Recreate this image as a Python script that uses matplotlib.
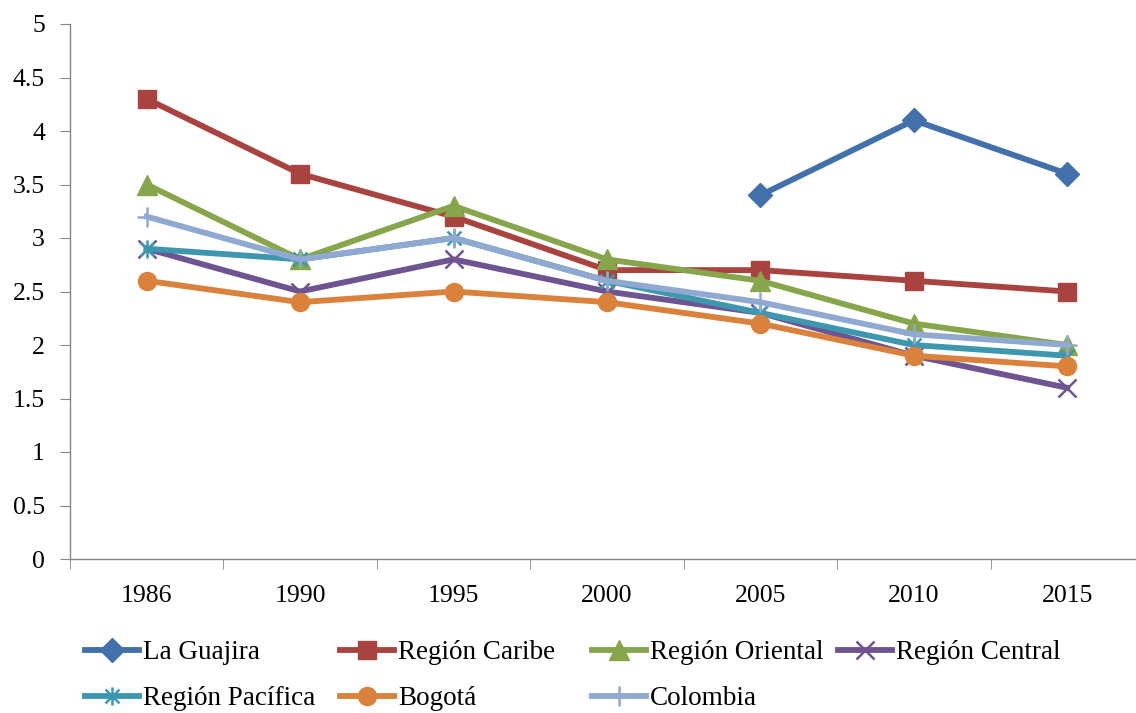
import matplotlib
matplotlib.use("Agg")
import matplotlib.pyplot as plt
from matplotlib.path import Path
from matplotlib.ticker import FixedLocator, FuncFormatter
import numpy as np

years = ["1986", "1990", "1995", "2000", "2005", "2010", "2015"]

la_guajira = [np.nan, np.nan, np.nan, np.nan, 3.4, 4.1, 3.6]
region_caribe = [4.3, 3.6, 3.2, 2.7, 2.7, 2.6, 2.5]
region_oriental = [3.5, 2.8, 3.3, 2.8, 2.6, 2.2, 2.0]
region_central = [2.9, 2.5, 2.8, 2.5, 2.3, 1.9, 1.6]
region_pacifica = [2.9, 2.8, 3.0, 2.6, 2.3, 2.0, 1.9]
bogota = [2.6, 2.4, 2.5, 2.4, 2.2, 1.9, 1.8]
colombia = [3.2, 2.8, 3.0, 2.6, 2.4, 2.1, 2.0]

# Excel "star" marker: an x with a vertical bar through it
star = Path([(-1, -1), (1, 1), (-1, 1), (1, -1), (0, -1.3), (0, 1.3)],
            [Path.MOVETO, Path.LINETO, Path.MOVETO, Path.LINETO, Path.MOVETO, Path.LINETO])

series = [
    ("La Guajira", la_guajira, "#4170AB", "D", 12, True),
    ("Región Caribe", region_caribe, "#A9433F", "s", 13, True),
    ("Región Oriental", region_oriental, "#87A54A", "^", 14, True),
    ("Región Central", region_central, "#6E5491", "x", 13, False),
    ("Región Pacífica", region_pacifica, "#3D97AF", star, 13, False),
    ("Bogotá", bogota, "#DA823B", "o", 13, True),
    ("Colombia", colombia, "#8FA9D0", "+", 15, False),
]

plt.rcParams["font.family"] = ["Liberation Serif", "DejaVu Serif"]

fig = plt.figure(figsize=(11.36, 7.13), dpi=100)
ax = fig.add_axes([70 / 1136, 1 - 559 / 713, 1074 / 1136, 535 / 713])

x = np.arange(len(years))
handles = []
for name, vals, color, marker, ms, filled in series:
    if filled:
        h, = ax.plot(x, vals, color=color, lw=4.2, marker=marker, ms=ms,
                     mfc=color, mec=color, label=name)
    else:
        h, = ax.plot(x, vals, color=color, lw=4.2, marker=marker, ms=ms,
                     mfc="none", mec=color, mew=1.8, label=name)
    handles.append(h)

ax.set_xlim(-0.5, len(years) - 0.5)
ax.set_ylim(0, 5)
ax.set_yticks(np.arange(0, 5.01, 0.5))
ax.yaxis.set_major_formatter(FuncFormatter(lambda v, p: f"{v:g}"))
ax.set_xticks(x)
ax.set_xticklabels(years)
ax.xaxis.set_minor_locator(FixedLocator(np.arange(-0.5, len(years), 1.0)))

for side in ["top", "right"]:
    ax.spines[side].set_visible(False)
for side in ["left", "bottom"]:
    ax.spines[side].set_color("#868686")
    ax.spines[side].set_linewidth(1.0)

ax.tick_params(axis="x", which="major", length=0, pad=19, labelsize=18.5)
ax.tick_params(axis="x", which="minor", length=7, color="#868686", direction="out")
ax.tick_params(axis="y", length=7, color="#868686", direction="out", pad=11, labelsize=18.5)

# legend: four columns placed at fixed positions, two rows
col_x = [85, 340, 592, 838]
columns = [[0, 4], [1, 5], [2, 6], [3]]
for cx, idx in zip(col_x, columns):
    fig.legend([handles[i] for i in idx], [series[i][0] for i in idx],
               loc="upper left", bbox_to_anchor=(cx / 1136, 1 - 640 / 713),
               frameon=False, fontsize=19.5, handlelength=2.0, handletextpad=0.15,
               labelspacing=0.78, borderaxespad=0, borderpad=0)

fig.savefig("out.png", dpi=100)
